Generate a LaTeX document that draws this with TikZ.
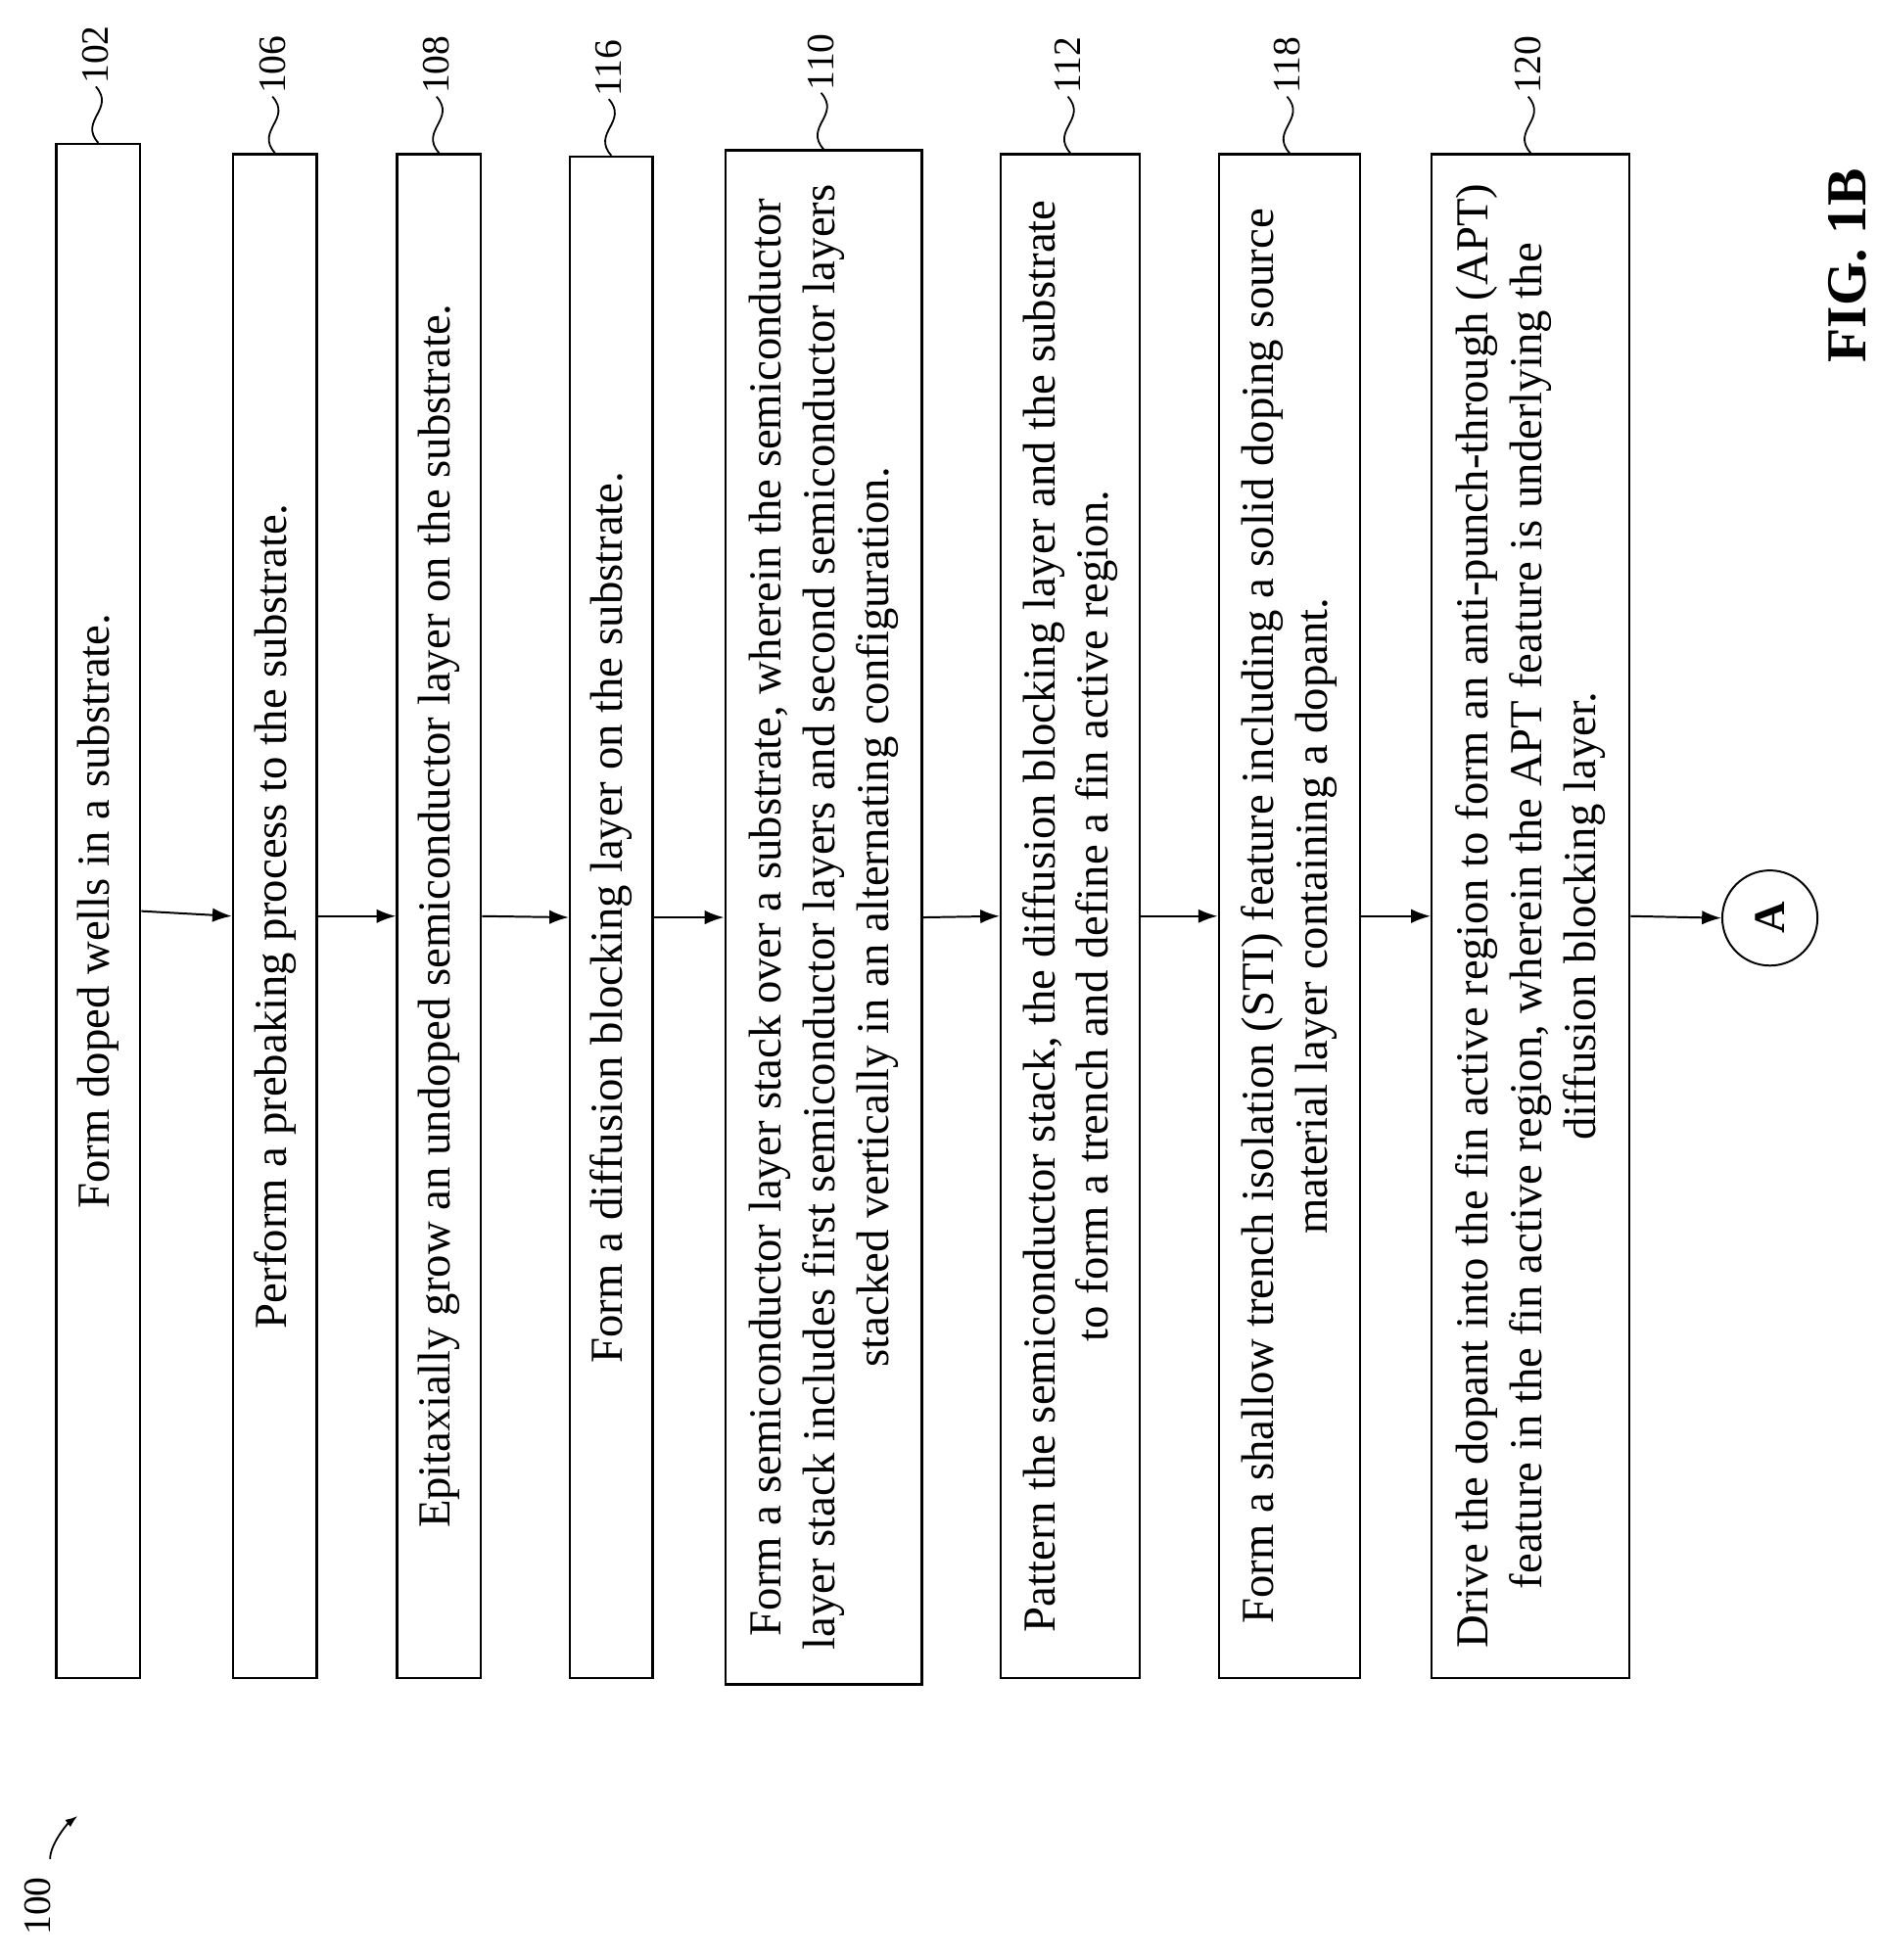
\documentclass[tikz,border=0pt]{standalone}
\usepackage{fontspec}
\setmainfont{Liberation Serif}
\usetikzlibrary{positioning,arrows.meta}

\tikzset{
    stepbox/.style={draw, line width=2.6pt, rotate=90, align=center,
        font=\fontsize{52}{61}\selectfont, inner sep=0pt},
    flow/.style={-{Latex[length=22pt,width=16pt]}, line width=2.2pt},
    refnum/.style={rotate=90, anchor=west, font=\fontsize{44}{50}\selectfont, inner sep=2pt}
}

% squiggle leader from the top of a box to its reference number
\newcommand{\refmark}[2]{%
    \draw[line width=2pt] (#1.east) .. controls +(-16,-18) and +(16,18) .. ++(-2,-45)
        node[refnum] {#2};
}

\begin{document}
\begin{tikzpicture}[x=0.05cm, y=-0.05cm]
    \useasboundingbox (0,0) rectangle (1500,1565);

    % steps
    \node[stepbox, minimum width=61.25cm, minimum height=3.35cm] (s102) at (78.5,727.5)
        {Form doped wells in a substrate.};
    \node[stepbox, minimum width=60.85cm, minimum height=3.35cm] (s106) at (219.5,731.5)
        {Perform a prebaking process to the substrate.};
    \node[stepbox, minimum width=60.85cm, minimum height=3.35cm] (s108) at (350.5,731.5)
        {Epitaxially grow an undoped semiconductor layer on the substrate.};
    \node[stepbox, minimum width=60.75cm, minimum height=3.3cm] (s116) at (488,732.5)
        {Form a diffusion blocking layer on the substrate.};
    \node[stepbox, minimum width=61.25cm, minimum height=7.85cm] (s110) at (657.5,732.5)
        {Form a semiconductor layer stack over a substrate, wherein the semiconductor\\
         layer stack includes first semiconductor layers and second semiconductor layers\\
         stacked vertically in an alternating configuration.};
    \node[stepbox, minimum width=60.85cm, minimum height=5.55cm] (s112) at (854.5,731.5)
        {Pattern the semiconductor stack, the diffusion blocking layer and the substrate\\
         to form a trench and define a fin active region.};
    \node[stepbox, minimum width=60.85cm, minimum height=5.65cm] (s118) at (1029.5,731.5)
        {Form a shallow trench isolation (STI) feature including a solid doping source\\
         material layer containing a dopant.};
    \node[stepbox, minimum width=60.85cm, minimum height=7.9cm] (s120) at (1222,731.5)
        {Drive the dopant into the fin active region to form an anti-punch-through (APT)\\
         feature in the fin active region, wherein the APT feature is underlying the\\
         diffusion blocking layer.};
    \node[draw, circle, line width=2.2pt, minimum size=3.8cm, rotate=90, inner sep=0pt,
        font=\fontsize{50}{50}\selectfont\bfseries] (endA) at (1413,733) {A};

    % connectors
    \draw[flow] (s102.south) -- (s106.north);
    \draw[flow] (s106.south) -- (s108.north);
    \draw[flow] (s108.south) -- (s116.north);
    \draw[flow] (s116.south) -- (s110.north);
    \draw[flow] (s110.south) -- (s112.north);
    \draw[flow] (s112.south) -- (s118.north);
    \draw[flow] (s118.south) -- (s120.north);
    \draw[flow] (s120.south) -- (endA.north);

    % reference numbers
    \refmark{s102}{102}
    \refmark{s106}{106}
    \refmark{s108}{108}
    \refmark{s116}{116}
    \refmark{s110}{110}
    \refmark{s112}{112}
    \refmark{s118}{118}
    \refmark{s120}{120}

    \node[rotate=90, font=\fontsize{44}{50}\selectfont] (fig100) at (30,1522) {100};
    \coordinate (tip100) at (62,1450);
    \draw[line width=2pt, -{Latex[length=14pt,width=10pt]}] (fig100.east) ++(10,-12)
        .. controls +(0,-12) and +(-8,6) .. (tip100);

    \node[rotate=90, font=\fontsize{64}{70}\selectfont\bfseries] (figname) at (1475,212) {FIG. 1B};
\end{tikzpicture}
\end{document}
